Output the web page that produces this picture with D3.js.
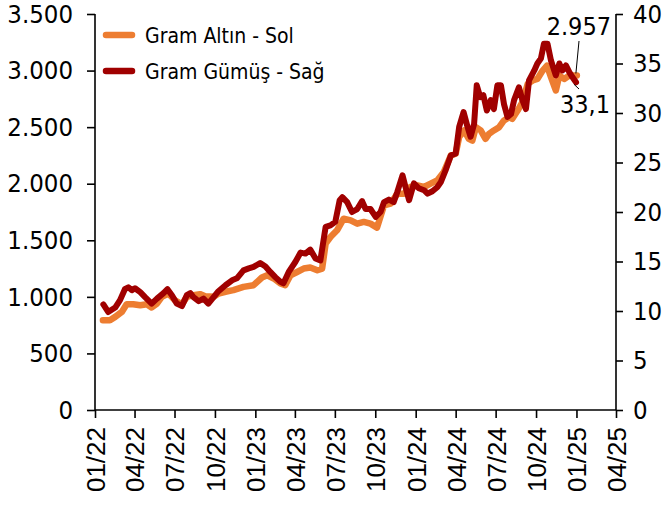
<!DOCTYPE html>
<html><head><meta charset="utf-8">
<script src="https://cdn.jsdelivr.net/npm/d3@7/dist/d3.min.js"></script>
<style>body{margin:0;background:#fff}</style></head>
<body><svg id="c" width="669" height="506"></svg>
<script>
const seriesNames = ["Gram Altın - Sol", "Gram Gümüş - Sağ"];
const seriesColors = ["#ED7D31", "#A00000"];

const goldDates = ["2022-01-19","2022-02-04","2022-02-16","2022-03-03","2022-03-14","2022-03-29","2022-04-14","2022-04-29","2022-05-10","2022-05-22","2022-06-02","2022-06-17","2022-07-02","2022-07-18","2022-07-29","2022-08-13","2022-08-28","2022-09-09","2022-09-28","2022-10-09","2022-10-25","2022-11-12","2022-12-05","2022-12-28","2023-01-16","2023-01-28","2023-02-12","2023-02-27","2023-03-10","2023-03-22","2023-04-06","2023-04-21","2023-05-06","2023-05-22","2023-06-02","2023-06-10","2023-06-21","2023-07-06","2023-07-21","2023-08-06","2023-08-21","2023-09-05","2023-09-20","2023-10-05","2023-10-21","2023-11-05","2023-11-20","2023-12-05","2023-12-20","2024-01-05","2024-01-20","2024-02-04","2024-02-19","2024-03-05","2024-03-21","2024-04-01","2024-04-09","2024-04-20","2024-05-01","2024-05-09","2024-05-17","2024-05-28","2024-06-08","2024-06-16","2024-06-27","2024-07-09","2024-07-20","2024-08-01","2024-08-08","2024-08-20","2024-08-31","2024-09-12","2024-09-23","2024-10-04","2024-10-16","2024-10-26","2024-11-04","2024-11-15","2024-11-23","2024-12-04","2024-12-16","2024-12-27","2025-01-02"];
const goldValues = [794,794,823,867,935,935,926,935,906,941,1000,1029,970,935,1000,1015,1024,1006,1000,1029,1045,1059,1088,1103,1171,1191,1162,1118,1103,1191,1220,1250,1259,1235,1250,1471,1529,1588,1691,1676,1647,1662,1647,1612,1809,1824,1912,1912,1971,1985,1971,2000,2029,2103,2250,2265,2412,2471,2397,2382,2500,2471,2397,2441,2471,2500,2559,2588,2574,2647,2721,2882,2912,2926,3000,3044,2941,2824,2956,2926,2956,2956,2957];

const silverDates = ["2022-01-20","2022-01-31","2022-02-16","2022-02-27","2022-03-10","2022-03-18","2022-03-26","2022-04-02","2022-04-14","2022-04-25","2022-05-10","2022-05-22","2022-06-06","2022-06-15","2022-06-25","2022-07-06","2022-07-18","2022-07-29","2022-08-06","2022-08-13","2022-08-25","2022-09-05","2022-09-16","2022-09-28","2022-10-09","2022-10-25","2022-11-09","2022-11-20","2022-12-05","2022-12-17","2022-12-28","2023-01-12","2023-01-24","2023-02-04","2023-02-16","2023-02-27","2023-03-06","2023-03-18","2023-04-02","2023-04-14","2023-04-25","2023-05-06","2023-05-18","2023-05-29","2023-06-10","2023-06-21","2023-07-02","2023-07-12","2023-07-18","2023-07-29","2023-08-09","2023-08-21","2023-09-01","2023-09-09","2023-09-20","2023-10-02","2023-10-13","2023-10-21","2023-11-01","2023-11-12","2023-11-20","2023-12-02","2023-12-09","2023-12-17","2023-12-28","2024-01-08","2024-01-20","2024-01-28","2024-02-08","2024-02-19","2024-02-27","2024-03-09","2024-03-21","2024-04-01","2024-04-09","2024-04-19","2024-04-28","2024-05-05","2024-05-13","2024-05-19","2024-05-27","2024-06-03","2024-06-11","2024-06-20","2024-06-27","2024-07-05","2024-07-13","2024-07-20","2024-07-28","2024-08-05","2024-08-12","2024-08-23","2024-08-31","2024-09-08","2024-09-15","2024-09-27","2024-10-04","2024-10-12","2024-10-19","2024-10-27","2024-11-04","2024-11-15","2024-11-23","2024-11-30","2024-12-08","2024-12-16","2024-12-23","2024-12-31"];
const silverValues = [10.66,9.9,10.35,11.1,12.2,12.4,12.1,12.3,11.9,11.4,10.75,11.25,11.8,12.2,11.6,10.75,10.5,11.6,11.8,11.4,11.0,11.25,10.75,11.4,12.0,12.6,13.1,13.3,14.1,14.3,14.45,14.85,14.5,13.95,13.4,12.95,12.8,13.95,14.95,15.9,15.8,16.2,15.3,15.1,18.5,18.65,19.0,21.2,21.5,21.0,20.0,20.3,21.1,20.3,20.3,19.5,20.0,21.0,21.25,21.0,22.0,23.7,22.5,21.2,22.9,22.4,22.2,21.85,22.1,22.5,23.0,24.2,25.7,25.9,28.6,30.1,28.6,27.6,28.9,32.8,31.6,31.8,30.25,31.3,30.4,32.8,32.8,30.9,29.6,29.9,31.3,32.6,31.3,30.4,33.3,34.3,35.0,35.5,37.0,37.0,35.3,33.8,35.0,34.3,34.8,34.1,33.6,33.1];

const leftTicks = [0,500,1000,1500,2000,2500,3000,3500];
const rightTicks = [0,5,10,15,20,25,30,35,40];
const xTickDates = ["2022-01-01","2022-04-01","2022-07-01","2022-10-01","2023-01-01","2023-04-01","2023-07-01","2023-10-01","2024-01-01","2024-04-01","2024-07-01","2024-10-01","2025-01-01","2025-04-01"];
const xTickLabels = ["01/22","04/22","07/22","10/22","01/23","04/23","07/23","10/23","01/24","04/24","07/24","10/24","01/25","04/25"];
const endLabels = ["2.957","33,1"];

const parse = d3.timeParse("%Y-%m-%d");
const trLocale = d3.formatLocale({decimal:",", thousands:".", grouping:[3], currency:["","₺"]});
const fmtL = trLocale.format(",.0f");

const svg = d3.select("#c");
const numFont = "'DejaVu Sans Condensed','DejaVu Sans',sans-serif";

const x = d3.scaleTime().domain([parse("2022-01-01"), parse("2025-04-01")]).range([95, 616]);
const yL = d3.scaleLinear().domain([0,3500]).range([410, 14]);
const yR = d3.scaleLinear().domain([0,40]).range([410, 14]);

const gold = goldDates.map((d,i)=>({date:parse(d), v:goldValues[i]}));
const silver = silverDates.map((d,i)=>({date:parse(d), v:silverValues[i]}));

// axes
const axL = svg.append("g").attr("transform","translate(95,0)")
  .call(d3.axisLeft(yL).tickValues(leftTicks).tickFormat(fmtL).tickSize(8).tickPadding(14));
const axR = svg.append("g").attr("transform","translate(616,0)")
  .call(d3.axisRight(yR).tickValues(rightTicks).tickFormat(d=>d).tickSize(7).tickPadding(10));
const axX = svg.append("g").attr("transform","translate(0,410)")
  .call(d3.axisBottom(x).tickValues(xTickDates.map(parse)).tickFormat((d,i)=>xTickLabels[i]).tickSize(8));

[axL, axR].forEach(a=>{
  a.selectAll("text").attr("font-family", numFont).attr("font-size", 25.5).attr("fill","#000");
});
axX.selectAll("text")
  .attr("font-family","'Liberation Sans',Arial,sans-serif").attr("font-size",26).attr("fill","#000")
  .attr("transform","rotate(-90)").attr("text-anchor","end")
  .attr("x",-17).attr("y",0).attr("dy","0.36em");
[axL, axR, axX].forEach(a=>{
  a.selectAll(".domain").attr("stroke","#000").attr("stroke-width",1.6);
  a.selectAll(".tick line").attr("stroke","#000").attr("stroke-width",1.6);
});
axL.select(".domain").attr("d","M0,410V14");
axR.select(".domain").attr("d","M0,410V14");
axX.select(".domain").attr("d","M95,0H616");

// lines
const lineG = d3.line().x(d=>x(d.date)).y(d=>yL(d.v)).curve(d3.curveLinear);
const lineS = d3.line().x(d=>x(d.date)).y(d=>yR(d.v)).curve(d3.curveLinear);
svg.append("path").datum(gold).attr("d",lineG).attr("fill","none")
  .attr("stroke",seriesColors[0]).attr("stroke-width",6.5).attr("stroke-linejoin","round").attr("stroke-linecap","round");
svg.append("path").datum(silver).attr("d",lineS).attr("fill","none")
  .attr("stroke",seriesColors[1]).attr("stroke-width",6).attr("stroke-linejoin","round").attr("stroke-linecap","round");

// legend
const leg = svg.append("g");
seriesNames.forEach((n,i)=>{
  const yy = 35 + i*36;
  leg.append("line").attr("x1",106).attr("x2",132).attr("y1",yy).attr("y2",yy)
    .attr("stroke",seriesColors[i]).attr("stroke-width",6.5).attr("stroke-linecap","round");
  leg.append("text").attr("x",145).attr("y",yy).attr("dy","0.36em")
    .attr("font-family","'DejaVu Sans Condensed','DejaVu Sans',sans-serif").attr("font-size",21).text(n);
});

// end annotations
const lastG = gold[gold.length-1], lastS = silver[silver.length-1];
svg.append("line").attr("x1",579).attr("y1",41).attr("x2",x(lastG.date)-1).attr("y2",yL(lastG.v)-2)
  .attr("stroke","#000").attr("stroke-width",1);
svg.append("text").attr("x",611).attr("y",35).attr("text-anchor","end")
  .attr("font-family",numFont).attr("font-size",25).text(endLabels[0]);
svg.append("line").attr("x1",x(lastS.date)-2).attr("y1",yR(lastS.v)+2).attr("x2",579).attr("y2",89)
  .attr("stroke","#000").attr("stroke-width",1);
svg.append("text").attr("x",610).attr("y",113).attr("text-anchor","end")
  .attr("font-family",numFont).attr("font-size",25).text(endLabels[1]);
</script></body></html>
